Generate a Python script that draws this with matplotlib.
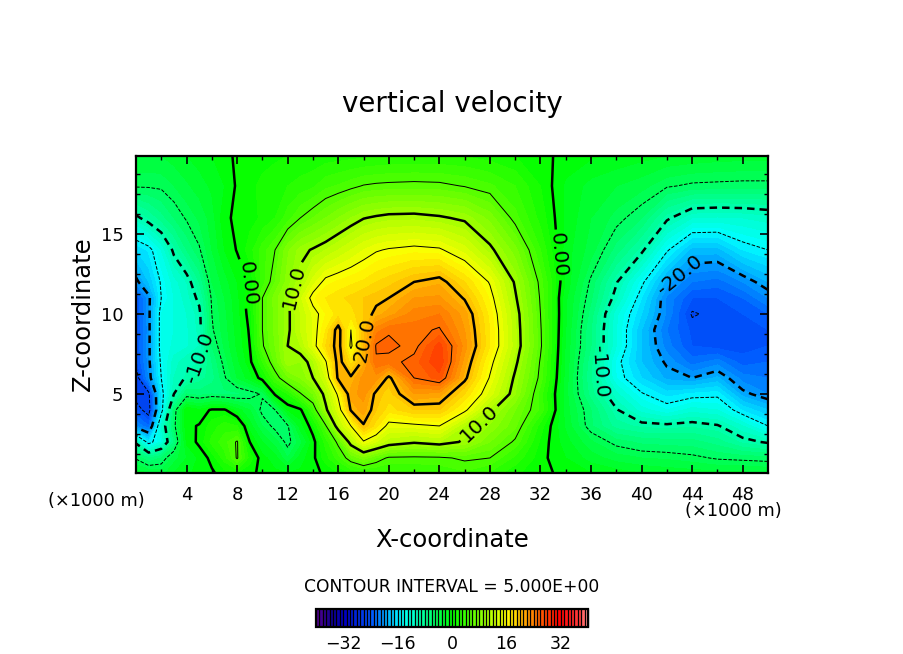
import numpy as np
import matplotlib
matplotlib.use("Agg")
import matplotlib.pyplot as plt
from matplotlib.colors import LinearSegmentedColormap, BoundaryNorm

# grid nodes, km
x_km = [0, 1, 2, 3, 4, 5, 6, 7, 8, 9, 10, 11, 12, 13, 14, 15, 16, 17, 18, 19, 20,
        22, 24, 26, 28, 30, 32, 34, 36, 38, 40, 42, 44, 46, 48, 50]
z_km = [0.06, 1, 2, 3, 4, 5, 6, 7, 8, 9, 10, 11, 12, 14, 16, 18, 19.9]

# vertical velocity, one row per z_km
w_rows = [
    [-2.5,-3,-3.5,-2,-1.2,-0.7,-0.2,0.6,1,0.3,-0.3,-0.8,-1,-0.8,-0.3,0.2,1,2,2.6,2.7,2.8,3,3.2,3.8,2.8,1.2,0.3,-0.3,-1,-1.5,-2,-2.3,-2.5,-2.7,-2.8,-3],
    [-5.2,-7,-6,-3.5,-2,-0.8,0.4,2.5,5.2,1.5,-0.7,-1.5,-4,-1.5,-0.3,1.5,3.5,6,7.5,6,4.7,4.6,4.7,5.3,5,2.7,0.4,-1,-2.5,-3.5,-4,-4.2,-4.6,-5.2,-5.4,-5.6],
    [-10.5,-16,-13,-7,-0.8,0.3,2.3,3.6,5.2,0,-2,-3.5,-5.5,-3.5,-0.5,2.4,5.5,11,14.7,13,11.3,10.3,11,9.7,7,4.7,0.8,-1.6,-3.8,-5.5,-6.3,-6.5,-6.6,-7.5,-9.3,-10.3],
    [-21,-23,-12,-5.5,-0.3,0.1,1.5,2.5,2,-1.5,-4,-5.5,-5.2,-1.5,0.7,4.7,11.5,15,19.8,17.5,14.2,14.5,15,11,8.8,6.2,1.5,-2.2,-5.8,-8.5,-9.3,-9.5,-9.2,-9.8,-12,-15],
    [-24,-26,-16,-6,0,-0.8,0.2,0.2,-1.5,-3,-5.5,-5,-1,-0.3,3.5,9.5,13.7,20.2,21.5,19,17.5,19,19,15.5,10.5,7,3.7,-2.5,-6,-9.8,-12.5,-14,-12.5,-13,-16.2,-18],
    [-26,-25.5,-16,-10,-6,-6.5,-6,-6.3,-6.3,-5.8,-4.8,0.3,2,4.8,7,10.8,15.5,21.5,22.5,19.5,18.5,22,21.5,18,13.5,9,3.5,-2.6,-7.5,-11.7,-14.8,-16.5,-15.8,-15.5,-19.5,-21],
    [-26,-21,-15,-11,-9.8,-8.5,-7.5,-5.2,-3,-1.5,0.7,4,6.8,8,10,13,20.5,20.3,22.5,22.5,19.5,25,26.5,20.5,14.8,9.6,4.5,-2.5,-8,-14,-17,-19.3,-20,-18.8,-21.5,-22],
    [-24.5,-20.5,-14.5,-11.5,-10.3,-10,-7,-4.5,-2.3,-0.4,3,6.3,9.7,9,10.8,14.7,21,17.5,20.5,24.8,24.5,25.5,28,21.5,15.7,10.5,4.8,-2.3,-7.7,-14.3,-18,-20.3,-22.5,-21.5,-23.5,-23],
    [-24,-20.5,-14,-12.7,-12.2,-11,-6,-3.8,-1.8,0,4.8,7,10,11,14,18,21,14.5,20,25.2,25.4,24.5,27.5,22.5,17,11.3,5.3,-2.2,-7,-13,-18,-21.5,-24,-24.5,-24.5,-24],
    [-24.5,-20.5,-14,-13,-12.2,-10.7,-5.2,-3.5,-1.6,0.2,5,7.3,9.6,12,14,17,21,15,19.5,23.5,24.8,24.5,25.2,22,17,11.2,5.2,-2,-7,-13,-18,-22,-24.3,-24.7,-24.5,-24],
    [-24,-20.5,-14,-13,-12,-10.5,-5,-3.3,-1.4,0.5,5,7.3,9.6,12,14.2,16,17.5,17.5,19,20.5,21.5,23.5,24,21.5,16.6,11,5,-1.8,-6.5,-12.7,-17,-21.2,-25.2,-24.5,-24,-23],
    [-24,-20.5,-15,-13,-11.5,-9.5,-4.7,-3,-1.3,0.8,5,7.5,9.6,12.7,15.8,17,17.7,18.3,19,19.5,20,22,22.2,19.8,15.8,10.3,4.8,-1.8,-5.8,-10.8,-16,-21.2,-24,-24,-23,-21],
    [-20.5,-18,-14.7,-12.5,-11,-8,-4,-2.5,-1,0.2,3.5,6,8.5,10.7,13.5,15.6,16.2,16.7,17.2,18,18.6,20,20.8,18,14.8,9.7,4.5,-1.2,-5.3,-9.8,-14.5,-19.5,-22,-22.5,-21,-19],
    [-17,-15.8,-13,-9.5,-7,-5.2,-3,-1,0.1,1.5,3.5,5,7.8,9.4,10.2,11,12,13,14,14.8,15.2,15.6,15.3,13.5,10.5,7.4,3,-1.5,-3.5,-6.5,-9.5,-14.7,-18.5,-18.5,-16,-15],
    [-10.5,-9,-7.5,-6,-4.8,-3.8,-2.5,-0.3,0.3,0.6,1.2,2,3.5,5,6,7,8,9,9.9,10.3,10.6,10.7,10.3,9.6,7.6,4.4,1.6,-1.2,-3,-4.4,-6,-9.6,-12,-12.2,-12,-11.5],
    [-4.8,-4.8,-4.7,-4,-3.2,-2.5,-1.8,-1,0.2,0.8,1.2,1.6,2,2.4,2.8,3.7,4.1,4.6,5.1,5.3,5.4,5.5,5.4,4.9,4.2,3,1,-1.2,-2.4,-3,-3.6,-4.8,-5.3,-5.4,-5.5,-5.5],
    [-3,-3,-3,-2.5,-2,-1.5,-1,-0.5,0.3,0.5,0.7,0.8,1,1.1,1.2,1.4,1.5,1.6,1.7,1.8,1.9,2,2,1.9,1.5,1,0.4,-0.4,-0.8,-1.2,-1.6,-2,-2.2,-2.4,-2.5,-2.5],
]

# colour scale anchors
scale_values = [-40, -36, -32, -24, -15, -7, 0, 8, 16, 24, 32, 38, 40]
scale_colors = ["#500090", "#100090", "#0000c0", "#0058ff", "#00ffff", "#00ff80", "#00ff00",
                "#80ff00", "#ffff00", "#ff8000", "#ff0000", "#ff4040", "#ff9090"]
bar_ticks = [-32, -16, 0, 16, 32]

x_ticks = [4, 8, 12, 16, 20, 24, 28, 32, 36, 40, 44, 48]
z_ticks = [5, 10, 15]

W, H = 904, 654


def px_text(x, y, s, **kwargs):
    # place figure text by pixel position in the picture
    return fig.text(x / W, 1 - y / H, s, ha="center", va="center", color="black", **kwargs)


fig = plt.figure(figsize=(W / 100, H / 100), dpi=100, facecolor="white")
ax = fig.add_axes([136 / W, 1 - 473 / H, 632 / W, 317 / H])

w = np.array(w_rows)
positions = [(v + 40) / 80 for v in scale_values]
cmap = LinearSegmentedColormap.from_list("ncl_rainbow", list(zip(positions, scale_colors)), N=80)
bands = np.arange(-40, 41, 1)
norm = BoundaryNorm(bands, cmap.N)

filled = ax.contourf(x_km, z_km, w, levels=bands, cmap=cmap, norm=norm, extend="both")

thin_levels = [-25, -15, -5, 5, 15, 25]
thick_levels = [-20, -10, 0, 10, 20]
ax.contour(x_km, z_km, w, levels=thin_levels, colors="black", linewidths=0.7,
           linestyles=["--" if v < 0 else "-" for v in thin_levels])
thick = ax.contour(x_km, z_km, w, levels=thick_levels, colors="black", linewidths=1.8,
                   linestyles=[(0, (3, 2)) if v < 0 else "-" for v in thick_levels])
label_spots = [(8.9, 11.9), (12.3, 11.8), (17.8, 8.4), (5.7, 7.2), (33.6, 13.7),
               (42.5, 12.9), (37.1, 6.4), (27.3, 3.0)]
ax.clabel(thick, levels=thick_levels, manual=label_spots, fontsize=14.5, colors="black",
          inline_spacing=3,
          fmt={-20: "-20.0", -10: "-10.0", 0: "0.00", 10: "10.0", 20: "20.0"})

ax.set_xlim(0, 50)
ax.set_ylim(0.06, 19.87)
ax.set_xticks(x_ticks)
ax.set_yticks(z_ticks)
ax.set_xticks(np.arange(2, 50, 4), minor=True)
ax.set_yticks(np.arange(1.25, 19.8, 1.25), minor=True)
ax.tick_params(which="major", direction="in", top=True, right=True, length=6, width=1.2,
               labelsize=13, pad=9)
ax.tick_params(which="minor", direction="in", top=True, right=True, length=3, width=1.0)
for spine in ax.spines.values():
    spine.set_linewidth(1.6)

px_text(452, 104, "vertical velocity", fontsize=20)
px_text(452, 540, "X-coordinate", fontsize=17.5)
px_text(83, 314, "Z-coordinate", fontsize=17.5, rotation=90)
px_text(96, 501, "(×1000 m)", fontsize=12.8)
px_text(733, 511, "(×1000 m)", fontsize=12.8)
px_text(452, 587, "CONTOUR INTERVAL = 5.000E+00", fontsize=12.3)

cax = fig.add_axes([316 / W, 1 - 627 / H, 272 / W, 18 / H])
bar = fig.colorbar(filled, cax=cax, orientation="horizontal", ticks=bar_ticks,
                   drawedges=True, spacing="proportional", extendfrac=0)
bar.dividers.set_color("black")
bar.dividers.set_linewidth(0.9)
bar.outline.set_linewidth(1.6)
bar.minorticks_off()
bar.set_ticks(bar_ticks)
bar.set_ticklabels(["−32", "−16", "0", "16", "32"])
cax.tick_params(length=0, labelsize=12.5, pad=6)

fig.savefig("out.png", dpi=100)
